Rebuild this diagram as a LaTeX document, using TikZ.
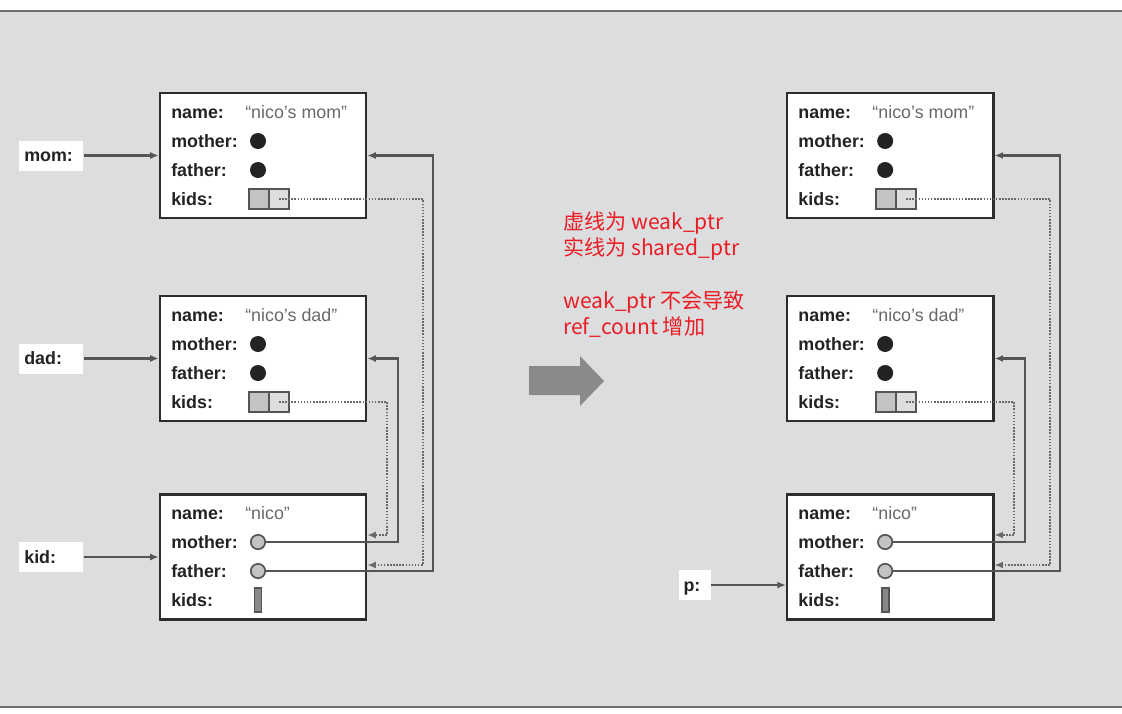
\documentclass[tikz,border=0pt]{standalone}
\usepackage{fontspec}
\setmainfont{Liberation Sans}
\newfontfamily\cjk{Noto Sans CJK SC}
\usetikzlibrary{arrows.meta,positioning}

\definecolor{bggray}{RGB}{220,221,223}
\definecolor{framegray}{RGB}{110,110,110}
\definecolor{boxline}{RGB}{45,45,45}
\definecolor{ptrline}{RGB}{85,85,85}
\definecolor{weakline}{RGB}{105,105,105}
\definecolor{cellgray}{RGB}{195,195,195}
\definecolor{fldtext}{RGB}{35,35,35}
\definecolor{valtext}{RGB}{105,105,105}
\definecolor{arrowgray}{RGB}{138,138,140}
\definecolor{notered}{RGB}{236,28,36}

\newcommand{\boxfont}{\fontsize{12.7}{15}\selectfont}

\tikzset{
  obj/.style={draw=boxline, line width=1.9pt, fill=white, minimum width=5.15cm, minimum height=3.125cm, inner sep=0pt},
  fld/.style={anchor=west, inner sep=0pt, text height=9.1pt, text depth=0pt, font=\boxfont\bfseries, text=fldtext},
  val/.style={anchor=west, inner sep=0pt, text height=9.1pt, text depth=0pt, font=\boxfont, text=valtext},
  setdot/.style={circle, fill=fldtext, minimum size=0.4cm, inner sep=0pt},
  nulldot/.style={circle, draw=ptrline, line width=1.2pt, fill=cellgray, minimum size=0.36cm, inner sep=0pt},
  kidcell/.style={draw=ptrline, line width=1.5pt, fill=cellgray, minimum width=0.5cm, minimum height=0.5cm, inner sep=0pt, outer sep=0pt},
  kidbar/.style={draw=ptrline, line width=1.2pt, fill=cellgray!70!black, minimum width=0.175cm, minimum height=0.6cm, inner sep=0pt},
  sptr/.style={draw=ptrline, line width=1.5pt, -{Latex[length=6pt,width=5pt]}},
  wptr/.style={draw=weakline, line width=1.8pt, dash pattern=on 1.1pt off 1.1pt, -{Latex[length=6pt,width=5pt]}},
  ptrlbl/.style={fill=white, font=\boxfont\bfseries, text=fldtext, text height=9.1pt, text depth=0pt, minimum height=0.75cm, inner xsep=0.125cm, align=left}
}

\begin{document}
\begin{tikzpicture}[x=0.025cm, y=-0.025cm]
  \useasboundingbox (0,0) rectangle (1122,713);
  % background and frame
  \fill[white] (0,0) rectangle (1122,713);
  \fill[bggray] (0,11) rectangle (1122,707);
  \draw[framegray, line width=1.5pt] (0,11) -- (1122,11);
  \draw[framegray, line width=1.5pt] (0,707) -- (1122,707);

  % before (L) and after (R)
  \foreach \s/\dx in {L/0, R/15.675}{
    \begin{scope}[xshift=\dx cm]
      \node[obj] (mom\s) at (263,155.5) {};
      \node[obj] (dad\s) at (263,358.5) {};
      \node[obj] (kid\s) at (263,557) {};
      % parents
      \foreach \b/\y/\n in {mom/155.5/{“nico’s mom”}, dad/358.5/{“nico’s dad”}}{
        \node[fld] at (171,\y-43.5) {name:};
        \node[val] at (245,\y-43.5) {\n};
        \node[fld] at (171,\y-14.5) {mother:};
        \node[setdot] at (258,\y-14.5) {};
        \node[fld] at (171,\y+14.5) {father:};
        \node[setdot] at (258,\y+14.5) {};
        \node[fld] at (171,\y+43.5) {kids:};
        \node[kidcell] (\b kidsa\s) at (259,\y+43.5) {};
        \node[kidcell, fill=cellgray!55, right=0pt of \b kidsa\s] (\b kidsb\s) {};
      }
      % kid
      \node[fld] at (171,513) {name:};
      \node[val] at (245,513) {“nico”};
      \node[fld] at (171,542) {mother:};
      \node[nulldot] (kmom\s) at (258,542) {};
      \node[fld] at (171,571) {father:};
      \node[nulldot] (kdad\s) at (258,571) {};
      \node[fld] at (171,600) {kids:};
      \node[kidbar] (kkids\s) at (258,600) {};
      % shared and weak pointers
      \draw[sptr] (kmom\s.east) -- ++(132,0) |- (dad\s.east);
      \draw[sptr] (kdad\s.east) -- ++(167,0) |- (mom\s.east);
      \draw[wptr] (momkidsb\s.center) -- ++(144,0) |- ([yshift=-0.2cm]kid\s.east);
      \draw[wptr] (dadkidsb\s.center) -- ++(108,0) |- ([yshift=0.55cm]kid\s.east);
    \end{scope}
  }

  % variables
  \node[ptrlbl, text width=1.35cm, left=1.875cm of momL.west] (momlbl) {mom:};
  \node[ptrlbl, text width=1.35cm, left=1.875cm of dadL.west] (dadlbl) {dad:};
  \node[ptrlbl, text width=1.35cm, left=1.875cm of kidL.west] (kidlbl) {kid:};
  \node[ptrlbl, text width=0.55cm, left=1.875cm of kidR.west, yshift=-0.7cm] (plbl) {p:};
  \draw[sptr] (momlbl.east) -- (momL.west);
  \draw[sptr] (dadlbl.east) -- (dadL.west);
  \draw[sptr] (kidlbl.east) -- (kidL.west);
  \draw[sptr] (plbl.east) -- (plbl.east -| kidR.west);

  % big arrow
  \fill[arrowgray] (529,366) -- (580,366) -- (580,356) -- (604,381) -- (580,406) -- (580,395) -- (529,395) -- cycle;

  % note
  \node[anchor=north west, inner sep=0pt, align=left, text=notered,
        font=\cjk\fontsize{15}{18.8}\selectfont] (note) at (563,211)
    {虚线为 weak\_ptr\\实线为 shared\_ptr\\[18.8pt]weak\_ptr 不会导致\\ref\_count 增加};
\end{tikzpicture}
\end{document}
